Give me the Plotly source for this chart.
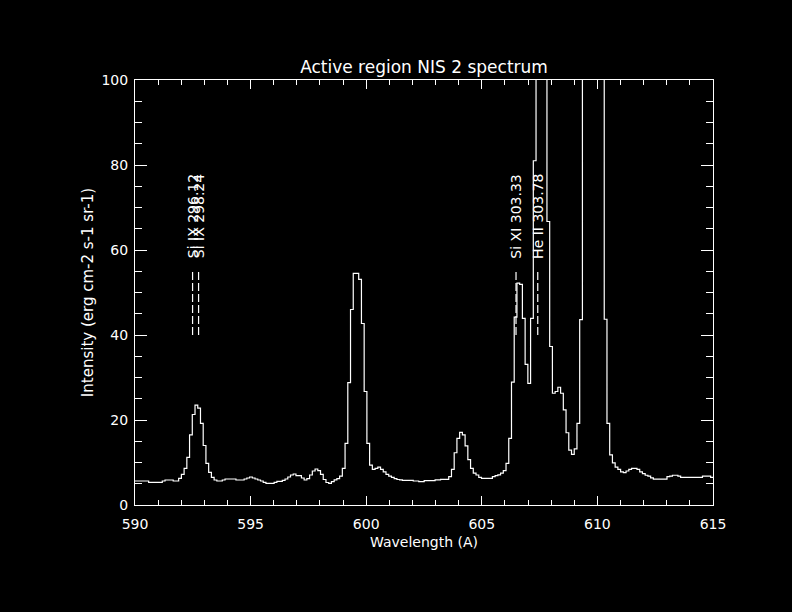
import numpy as np
import plotly.graph_objects as go

# ---- data ----
WL_START = 590.0      # first bin edge (Angstrom)
WL_STEP = 0.118       # bin width (Angstrom)

intensity = [
    5.65, 5.65, 5.65, 5.65, 5.65, 5.33, 5.33, 5.33, 5.33, 5.33,
    5.65, 5.88, 5.88, 5.88, 5.65, 5.65, 6.27, 7.22, 8.63, 11.2,
    16.5, 21.3, 23.5, 22.8, 19.2, 14.0, 9.8, 7.69, 6.51, 5.88,
    5.65, 5.65, 5.88, 6.12, 6.12, 6.12, 6.12, 5.88, 5.88, 5.88,
    6.12, 6.35, 6.59, 6.35, 6.12, 5.88, 5.65, 5.33, 5.1, 5.1,
    5.1, 5.33, 5.57, 5.57, 5.8, 6.12, 6.59, 7.06, 7.29, 6.9,
    6.9, 6.35, 5.88, 6.2, 7.06, 8.0, 8.47, 8.08, 7.22, 6.0,
    5.3, 5.1, 5.5, 5.9, 6.2, 6.8, 8.6, 14.5, 28.8, 46.0,
    54.5, 54.5, 53.1, 42.7, 26.7, 14.5, 9.4, 8.4, 8.6, 8.9,
    8.4, 7.8, 7.2, 6.8, 6.5, 6.2, 6.0, 5.9, 5.8, 5.8,
    5.8, 5.8, 5.65, 5.65, 5.5, 5.5, 5.75, 5.75, 5.75, 5.75,
    5.9, 5.9, 6.04, 6.04, 6.04, 6.67, 8.39, 12.3, 15.7, 17.1,
    16.5, 13.9, 10.7, 8.6, 7.5, 7.06, 6.5, 6.27, 6.27, 6.27,
    6.27, 6.67, 6.9, 7.1, 7.5, 8.1, 9.8, 15.7, 28.9, 44.2,
    52.2, 51.9, 43.9, 33.1, 28.6, 43.9, 81.0, 135.0, 210.0, 190.0,
    140.0, 66.7, 37.3, 26.3, 26.7, 27.7, 26.3, 22.4, 17.0, 12.9,
    11.9, 13.2, 19.2, 43.6, 170.0, 330.0, 480.0, 560.0, 520.0, 410.0,
    260.0, 150.0, 43.7, 19.2, 11.8, 9.9, 8.9, 8.4, 7.8, 7.6,
    8.0, 8.4, 8.6, 8.6, 8.4, 7.8, 7.4, 7.0, 6.8, 6.4,
    6.1, 6.1, 6.1, 6.1, 6.1, 6.7, 6.8, 7.0, 7.0, 6.8,
    6.5, 6.5, 6.5, 6.5, 6.5, 6.5, 6.5, 6.5, 6.8, 6.8,
    6.8, 6.5,
]

line_wavelengths = [592.49, 592.75, 606.48, 607.42]
line_labels = ["Si IX 296.12", "Si IX 298.24", "Si XI 303.33", "He II 303.78"]
marker_low = 40
marker_high = 55
label_base = 57.5

x_range = [590, 615]
y_range = [0, 100]
x_ticks = [590, 595, 600, 605, 610, 615]
y_ticks = [0, 20, 40, 60, 80, 100]

title_text = "Active region NIS 2 spectrum"
x_title = "Wavelength (A)"
y_title = "Intensity (erg cm-2 s-1 sr-1)"

# ---- figure ----
FONT = "DejaVu Sans"
edges = WL_START + WL_STEP * np.arange(len(intensity) + 1)
y_steps = list(intensity) + [intensity[-1]]

fig = go.Figure()
fig.add_trace(go.Scatter(
    x=edges, y=y_steps, mode="lines", line=dict(shape="hv", color="white", width=1.2),
    showlegend=False, hoverinfo="skip"))

for wl, lab in zip(line_wavelengths, line_labels):
    fig.add_shape(type="line", xref="x", yref="y", x0=wl, x1=wl, y0=marker_low, y1=marker_high,
                  line=dict(color="white", width=1.2, dash="8px,3px"))
    fig.add_annotation(x=wl, y=label_base, xref="x", yref="y", text=lab, textangle=-90,
                       showarrow=False, xanchor="center", yanchor="bottom",
                       font=dict(family=FONT, size=14, color="white"))

axis_common = dict(showline=True, linecolor="white", linewidth=1, mirror="allticks",
                   ticks="inside", tickcolor="white", tickwidth=1, showgrid=False,
                   zeroline=False, tickfont=dict(family=FONT, size=14, color="white"))

fig.update_xaxes(range=x_range, tickvals=x_ticks, ticklen=9,
                 minor=dict(dtick=1, tick0=590, ticks="inside", ticklen=5, tickcolor="white", showgrid=False),
                 title=dict(text=x_title, font=dict(family=FONT, size=14, color="white"), standoff=6),
                 ticklabelstandoff=6, **axis_common)
fig.update_yaxes(range=y_range, tickvals=y_ticks, ticklen=12,
                 minor=dict(dtick=5, tick0=0, ticks="inside", ticklen=7, tickcolor="white", showgrid=False),
                 title=dict(text=y_title, font=dict(family=FONT, size=15, color="white"), standoff=4),
                 ticklabelstandoff=3, **axis_common)

fig.update_layout(
    width=792, height=612,
    paper_bgcolor="black", plot_bgcolor="black",
    margin=dict(l=135, r=79, t=80, b=107),
    title=dict(text=title_text, x=0.5, xref="paper", y=1 - 67 / 612, yref="container",
               xanchor="center", yanchor="middle",
               font=dict(family=FONT, size=17, color="white")),
)

fig.write_html(
    "out.html",
    config={"displayModeBar": False},
    post_script="document.body.style.margin='0';document.body.style.background='black';",
)
